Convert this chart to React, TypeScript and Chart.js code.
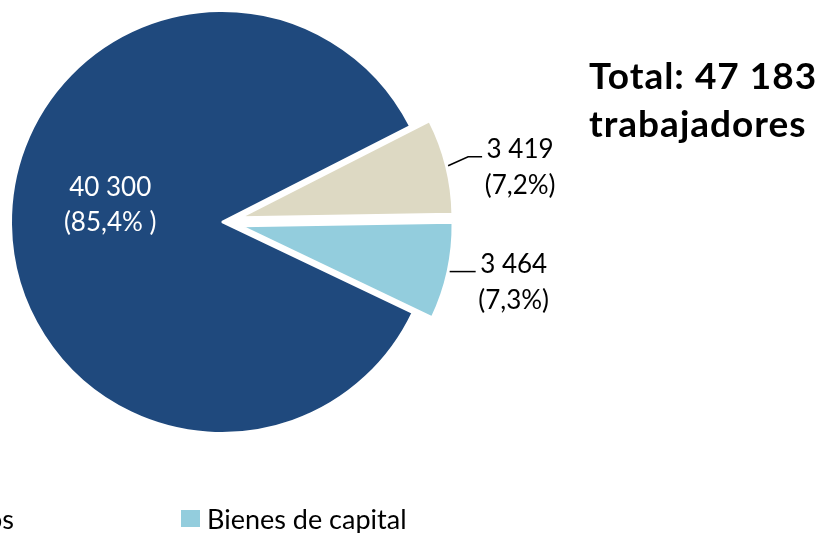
import React, { useEffect, useRef } from "react";
import { Chart, registerables } from "chart.js";

Chart.register(...registerables);

// ---- data ----
const categories = ["Bienes intermedios", "Bienes de consumo", "Bienes de capital"];
const workers = [40300, 3419, 3464];
const sliceColors = ["#1F497D", "#DDD9C3", "#93CDDD"];
const totalCaption = "trabajadores";

// ---- style / layout ----
const FONT = "Lato, 'Open Sans', sans-serif";
const explode = [0, 20, 20];
const labelLayout = [
  { inside: true, r: 0.53, dy: -27.5 },
  { inside: false, elbow: [20, -9] },
  { inside: false, elbow: [12, 0] },
];
const legendSlots: React.CSSProperties[] = [
  { right: 813, top: 505 },
  { left: 0, top: 560 },
  { left: 181, top: 505 },
];

const total = workers.reduce((a, b) => a + b, 0);
const fmtThousands = (n: number) => String(n).replace(/\B(?=(\d{3})+(?!\d))/g, " ");
const fmtPct = (v: number) => ((v / total) * 100).toFixed(1).replace(".", ",");

const explodePlugin = {
  id: "explodeSlices",
  afterUpdate(chart: any) {
    const meta = chart.getDatasetMeta(0);
    meta.data.forEach((arc: any, i: number) => {
      const d = explode[i] || 0;
      if (!d) return;
      const mid = (arc.startAngle + arc.endAngle) / 2;
      arc.x += Math.cos(mid) * d;
      arc.y += Math.sin(mid) * d;
    });
  },
};

const labelPlugin = {
  id: "sliceLabels",
  afterDatasetsDraw(chart: any) {
    const ctx = chart.ctx as CanvasRenderingContext2D;
    const meta = chart.getDatasetMeta(0);
    ctx.save();
    ctx.font = `26px ${FONT}`;
    ctx.textAlign = "center";
    ctx.textBaseline = "alphabetic";
    meta.data.forEach((arc: any, i: number) => {
      const { x, y, startAngle, endAngle, outerRadius } = arc;
      const mid = (startAngle + endAngle) / 2;
      const cfg: any = labelLayout[i];
      const line1 = fmtThousands(workers[i]);
      const line2 = `(${fmtPct(workers[i])}%${i === 0 ? " " : ""})`;
      if (cfg.inside) {
        const cx = x + Math.cos(mid) * outerRadius * cfg.r;
        const cy = y + Math.sin(mid) * outerRadius * cfg.r + cfg.dy;
        ctx.fillStyle = "#ffffff";
        ctx.fillText(line1, cx, cy);
        ctx.fillText(line2, cx, cy + 35);
      } else {
        const px = x + Math.cos(mid) * (outerRadius + 2);
        const py = y + Math.sin(mid) * (outerRadius + 2);
        const ex = px + cfg.elbow[0];
        const ey = py + cfg.elbow[1];
        const hx = ex + 14;
        ctx.strokeStyle = "#000000";
        ctx.lineWidth = 1.5;
        ctx.beginPath();
        ctx.moveTo(px, py);
        ctx.lineTo(ex, ey);
        ctx.lineTo(hx, ey);
        ctx.stroke();
        ctx.fillStyle = "#000000";
        ctx.fillText(line1, hx + 38, ey + 1);
        ctx.fillText(line2, hx + 38, ey + 37);
      }
    });
    ctx.restore();
  },
};

export default function App() {
  const canvasRef = useRef<HTMLCanvasElement | null>(null);

  useEffect(() => {
    if (!canvasRef.current) return;
    const chart = new Chart(canvasRef.current, {
      type: "pie",
      data: {
        labels: categories,
        datasets: [
          {
            data: workers,
            backgroundColor: sliceColors,
            borderColor: "#ffffff",
            borderWidth: 2,
          },
        ],
      },
      options: {
        responsive: false,
        animation: false,
        rotation: 115.5,
        radius: 211,
        layout: { padding: { left: 10, top: 10, right: 393, bottom: 99 } },
        plugins: {
          legend: { display: false },
          tooltip: { enabled: false },
        },
      } as any,
      plugins: [explodePlugin, labelPlugin],
    });
    return () => chart.destroy();
  }, []);

  return (
    <div
      style={{
        position: "absolute",
        left: 0,
        top: 0,
        width: 827,
        height: 533,
        overflow: "hidden",
        background: "#ffffff",
        fontFamily: FONT,
      }}
    >
      <canvas ref={canvasRef} width={827} height={533} style={{ position: "absolute", left: 0, top: 0 }} />
      <div
        style={{
          position: "absolute",
          left: 589,
          top: 51,
          fontSize: 37,
          lineHeight: "48px",
          fontWeight: 700,
          letterSpacing: 1,
          color: "#000",
          whiteSpace: "nowrap",
        }}
      >
        <div>Total: {fmtThousands(total)}</div>
        <div>{totalCaption}</div>
      </div>
      {categories.map((c, i) => (
        <div
          key={c}
          style={{
            position: "absolute",
            ...legendSlots[i],
            display: "flex",
            alignItems: "center",
            gap: 7,
            fontSize: 27,
            lineHeight: "27px",
            color: "#000",
            whiteSpace: "nowrap",
          }}
        >
          <span style={{ display: "inline-block", width: 19, height: 17, background: sliceColors[i] }} />
          <span>{c}</span>
        </div>
      ))}
    </div>
  );
}
